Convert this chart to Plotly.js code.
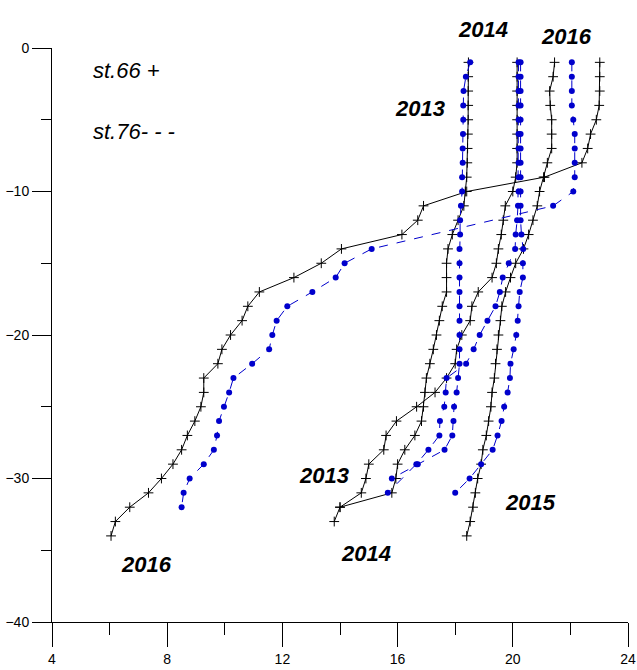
<!DOCTYPE html>
<html>
<head>
<meta charset="utf-8">
<script src="https://cdn.plot.ly/plotly-3.0.1.min.js"></script>
<style>body{margin:0;background:#fff}#chart{width:637px;height:670px}</style>
</head>
<body>
<div id="chart"></div>
<script>
// st.66 (black, +) temperature profiles
const d66_2013 = [-1,-2,-3,-4,-5,-6,-7,-8,-9,-10,-11,-12,-13,-14,-15,-16,-17,-18,-19,-20,-21,-22,-23,-24,-25,-26,-27,-28,-29,-30,-31,-32,-33];
const t66_2013 = [18.46,18.45,18.45,18.45,18.45,18.44,18.43,18.42,18.4,18.35,18.3,18.1,17.9,17.75,17.7,17.7,17.7,17.55,17.45,17.35,17.24,17.12,17.0,16.95,16.9,16.83,16.6,16.25,16.0,15.94,15.8,14.0,13.8];
const d66_2014 = [-1,-2,-3,-4,-5,-6,-7,-8,-9,-10,-11,-12,-13,-14,-15,-16,-17,-18,-19,-20,-21,-22,-23,-24,-25,-26,-27,-28,-29,-30,-31,-32];
const t66_2014 = [20.15,20.15,20.15,20.15,20.15,20.15,20.15,20.15,20.1,20.0,19.74,19.67,19.6,19.5,19.43,19.28,18.8,18.58,18.52,18.23,18.05,18.0,17.7,17.3,16.66,15.96,15.6,15.52,15.0,14.9,14.74,14.0];
const d66_2015 = [-1,-2,-3,-4,-5,-6,-7,-8,-9,-10,-11,-12,-13,-14,-15,-16,-17,-18,-19,-20,-21,-22,-23,-24,-25,-26,-27,-28,-29,-30,-31,-32,-33,-34];
const t66_2015 = [21.45,21.4,21.28,21.3,21.35,21.35,21.35,21.2,21.07,20.93,20.85,20.7,20.55,20.37,20.1,19.92,19.75,19.62,19.57,19.5,19.45,19.4,19.36,19.28,19.24,19.16,19.08,18.96,18.9,18.78,18.7,18.62,18.52,18.4];
const d66_2016 = [-1,-2,-3,-4,-5,-6,-7,-8,-9,-10,-11,-12,-13,-14,-15,-16,-17,-18,-19,-20,-21,-22,-23,-24,-25,-26,-27,-28,-29,-30,-31,-32,-33,-34];
const t66_2016 = [23.02,23.02,23.02,23.0,22.9,22.7,22.6,22.4,21.1,18.4,16.9,16.7,16.15,14.05,13.35,12.4,11.2,10.8,10.6,10.2,9.9,9.76,9.27,9.27,9.17,8.96,8.7,8.5,8.2,7.8,7.35,6.7,6.2,6.05];

// st.76 (blue, dashed) temperature profiles
const d76_2013 = [-1,-2,-3,-4,-5,-6,-7,-8,-9,-10,-11,-12,-13,-14,-15,-16,-17,-18,-19,-20,-21,-22,-23,-24,-25,-26,-27,-28,-29,-30];
const t76_2013 = [18.52,18.37,18.29,18.28,18.28,18.27,18.26,18.26,18.24,18.24,18.2,18.17,18.17,18.15,18.15,18.15,18.15,18.15,18.15,18.15,18.15,18.15,18.1,18.05,17.96,17.94,17.9,17.63,16.7,15.8];
const d76_2014 = [-1,-2,-3,-4,-5,-6,-7,-8,-9,-10,-11,-12,-13,-14,-15,-16,-17,-18,-19,-20,-21,-22,-23,-24,-25,-26,-27,-28,-29,-31];
const t76_2014 = [20.2,20.2,20.2,20.2,20.2,20.2,20.2,20.2,20.2,20.2,20.18,20.15,20.1,20.08,19.86,19.65,19.55,19.4,19.12,18.85,18.64,18.38,17.7,17.67,17.62,17.47,17.45,17.07,16.65,15.66];
const d76_2015 = [-1,-2,-3,-4,-5,-6,-7,-8,-9,-10,-11,-12,-13,-14,-15,-16,-17,-18,-19,-20,-21,-22,-23,-24,-25,-26,-27,-28,-29,-30,-31];
const t76_2015 = [20.27,20.27,20.27,20.27,20.27,20.27,20.27,20.27,20.27,20.27,20.27,20.27,20.3,20.36,20.35,20.35,20.24,20.2,20.17,20.12,20.03,19.92,19.9,19.82,19.7,19.61,19.47,19.3,18.9,18.5,18.0];
const d76_2016 = [-1,-2,-3,-4,-5,-6,-7,-8,-9,-10,-11,-14,-15,-16,-17,-18,-19,-20,-21,-22,-23,-24,-25,-26,-27,-28,-29,-30,-31,-32];
const t76_2016 = [22.05,22.05,22.05,22.05,22.1,22.15,22.15,22.15,22.15,22.1,21.4,15.1,14.16,13.85,13.04,12.17,11.8,11.65,11.54,10.95,10.3,10.15,9.97,9.8,9.73,9.62,9.27,8.78,8.57,8.5];

const BLACK = "#000000";
const BLUE = "#0000cc";

function st66(x, y) {
  return {
    type: "scatter", mode: "lines+markers", x, y, showlegend: false,
    line: { color: BLACK, width: 1 },
    marker: { symbol: "cross-thin", size: 7, line: { color: BLACK, width: 1 } },
  };
}
function st76(x, y) {
  return {
    type: "scatter", mode: "lines+markers", x, y, showlegend: false,
    line: { color: BLUE, width: 1, dash: "dash" },
    marker: { symbol: "circle", size: 6, color: BLUE },
  };
}

const traces = [
  st66(t66_2013, d66_2013), st66(t66_2014, d66_2014),
  st66(t66_2015, d66_2015), st66(t66_2016, d66_2016),
  st76(t76_2013, d76_2013), st76(t76_2014, d76_2014),
  st76(t76_2015, d76_2015), st76(t76_2016, d76_2016),
];

const yearFont = { family: "Arial, Liberation Sans, sans-serif", size: 22, color: "#000" };
function yr(text, x, y, ref) {
  return { text: "<b><i>" + text + "</i></b>", x, y, xref: ref ? "paper" : "x", yref: ref ? "paper" : "y", showarrow: false, font: yearFont };
}
const legFont = { family: "Arial, Liberation Sans, sans-serif", size: 22, color: "#000" };

const layout = {
  width: 637, height: 670,
  margin: { l: 52, r: 9, t: 48, b: 48 },
  paper_bgcolor: "#fff", plot_bgcolor: "#fff",
  font: { family: "Arial, Liberation Sans, sans-serif", size: 14, color: "#000" },
  xaxis: {
    range: [4, 24], tick0: 4, dtick: 4, showgrid: false, zeroline: false,
    showline: true, linecolor: "#000", linewidth: 1,
    ticks: "outside", ticklen: 24, tickcolor: "#000",
    minor: { dtick: 2, ticks: "outside", ticklen: 12, tickcolor: "#000", showgrid: false },
  },
  yaxis: {
    range: [-40, 0], tick0: 0, dtick: 10, showgrid: false, zeroline: false,
    showline: true, linecolor: "#000", linewidth: 1,
    ticks: "outside", ticklen: 19, tickcolor: "#000",
    minor: { dtick: 5, ticks: "outside", ticklen: 10, tickcolor: "#000", showgrid: false },
  },
  annotations: [
    { text: "<i>st.66 +</i>", x: 5.36, y: -1.6, xanchor: "left", xref: "x", yref: "y", showarrow: false, font: legFont },
    { text: "<i>st.76- - -</i>", x: 5.36, y: -5.8, xanchor: "left", xref: "x", yref: "y", showarrow: false, font: legFont },
    yr("2014", 0.795, 1.057, true), yr("2016", 0.941, 1.045, true), yr("2013", 16.77, -4.2),
    yr("2013", 13.46, -29.8), yr("2014", 14.9, -35.2), yr("2015", 20.63, -31.7), yr("2016", 7.27, -36.0),
  ],
};

Plotly.newPlot("chart", traces, layout, { displayModeBar: false, staticPlot: true });
</script>
</body>
</html>
